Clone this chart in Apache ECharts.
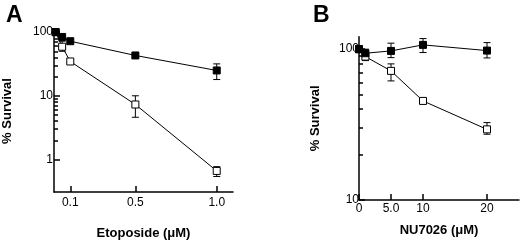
<!DOCTYPE html>
<html>
<head>
<meta charset="utf-8">
<script src="https://cdn.jsdelivr.net/npm/echarts@6/dist/echarts.min.js"></script>
<style>
  html, body { margin: 0; padding: 0; background: #fff; }
  #chart { width: 520px; height: 245px; }
</style>
</head>
<body>
<div id="chart"></div>
<script>
// panel A - etoposide
var etoX = [0.01, 0.05, 0.1, 0.5, 1.0];
var etoFilled = [100, 84, 72, 43, 25];
var etoFilledLow = [null, null, null, null, 18];
var etoFilledHigh = [null, null, null, null, 31.7];
var etoOpen = [100, 59, 34.6, 7.3, 0.66];
var etoOpenLow = [null, 50, null, 4.6, 0.54];
var etoOpenHigh = [null, 72, null, 10, 0.77];
var etoTicks = [0.1, 0.5, 1.0];

// panel B - NU7026
var nuX = [0, 1, 5, 10, 20];
var nuFilled = [100, 94, 97.4, 106.8, 97.9];
var nuFilledLow = [null, 89, 87.9, 95, 87.5];
var nuFilledHigh = [null, 100, 109.6, 117.6, 110.6];
var nuOpen = [100, 89.3, 71.8, 45.4, 29.4];
var nuOpenLow = [null, 84, 61.6, null, 27.3];
var nuOpenHigh = [null, 95, 79.9, null, 32.6];
var nuTicks = [0, 5, 10, 20];
var nuTickLabels = ['0', '5.0', '10', '20'];

// y ticks (log axes)
var majorA = [1, 10, 100];
var minorA = [2, 3, 4, 5, 6, 7, 8, 9, 20, 30, 40, 50, 60, 70, 80, 90];
var majorB = [10, 100];
var minorB = [20, 30, 40, 50, 60, 70, 80, 90];

var yRangeA = [0.308, 108];
var yRangeB = [10, 121];

var font = '"Liberation Sans", Arial, sans-serif';
var tickColor = '#000';

function pairs(xs, ys) {
    return xs.map(function (x, i) { return [x, ys[i]]; });
}

function errData(xs, lo, hi) {
    var out = [];
    for (var i = 0; i < xs.length; i++) {
        if (lo[i] != null) out.push([xs[i], lo[i], hi[i]]);
    }
    return out;
}

function errSeries(idx, data) {
    return {
        type: 'custom',
        xAxisIndex: idx,
        yAxisIndex: idx,
        z: 1,
        data: data,
        renderItem: function (params, api) {
            var lo = api.coord([api.value(0), api.value(1)]);
            var hi = api.coord([api.value(0), api.value(2)]);
            var w = 3.5;
            var st = { stroke: '#000', lineWidth: 1 };
            return {
                type: 'group',
                children: [
                    { type: 'line', shape: { x1: lo[0], y1: lo[1], x2: hi[0], y2: hi[1] }, style: st },
                    { type: 'line', shape: { x1: lo[0] - w, y1: lo[1], x2: lo[0] + w, y2: lo[1] }, style: st },
                    { type: 'line', shape: { x1: hi[0] - w, y1: hi[1], x2: hi[0] + w, y2: hi[1] }, style: st }
                ]
            };
        }
    };
}

function lineSeries(idx, data, filled) {
    return {
        type: 'line',
        xAxisIndex: idx,
        yAxisIndex: idx,
        data: data,
        z: filled ? 4 : 3,
        symbol: 'rect',
        symbolSize: 7,
        showSymbol: true,
        lineStyle: { color: '#000', width: 1 },
        itemStyle: {
            color: filled ? '#000' : '#fff',
            borderColor: '#000',
            borderWidth: 1
        },
        animation: false
    };
}

// helper axis in log10 space, only used to draw the tick marks of a log axis
function tickAxis(grid, range, ticks, len) {
    return {
        type: 'value', gridIndex: grid, position: 'left',
        min: Math.log10(range[0]), max: Math.log10(range[1]),
        axisLine: { show: false },
        axisTick: { show: true, inside: true, length: len, customValues: ticks.map(Math.log10), lineStyle: { color: tickColor, width: 1.5 } },
        axisLabel: { show: false },
        splitLine: { show: false }
    };
}

var axisLine = { show: true, onZero: false, lineStyle: { color: '#000', width: 1.5 } };
var labelStyle = { color: '#000', fontFamily: font, fontSize: 12 };
var nameStyle = { color: '#000', fontFamily: font, fontSize: 13, fontWeight: 'bold' };

var chart = echarts.init(document.getElementById('chart'));
var option = {
    animation: false,
    title: [
        { text: 'A', left: 1, top: -1, textStyle: { fontFamily: font, fontSize: 23, fontWeight: 'bold', color: '#000' } },
        { text: 'B', left: 308, top: -1, textStyle: { fontFamily: font, fontSize: 23, fontWeight: 'bold', color: '#000' } }
    ],
    grid: [
        { left: 54, right: 287, top: 30, bottom: 50.7 },
        { left: 359, right: 1, top: 36.7, bottom: 45 }
    ],
    xAxis: [
        {
            type: 'value', gridIndex: 0, min: 0, max: 1.1,
            name: 'Etoposide (μM)', nameLocation: 'middle', nameGap: 35, nameTextStyle: nameStyle,
            axisLine: axisLine,
            axisTick: { show: true, inside: true, length: 6, customValues: etoTicks, lineStyle: { color: tickColor, width: 1.5 } },
            axisLabel: Object.assign({ customValues: etoTicks, margin: 5, formatter: function (v) { return v.toFixed(1); } }, labelStyle),
            splitLine: { show: false }
        },
        {
            type: 'value', gridIndex: 1, min: 0, max: 25,
            name: 'NU7026 (μM)', nameLocation: 'middle', nameGap: 24, nameTextStyle: nameStyle,
            axisLine: axisLine,
            axisTick: { show: true, inside: true, length: 6, customValues: nuTicks, lineStyle: { color: tickColor, width: 1.5 } },
            axisLabel: Object.assign({
                customValues: nuTicks, margin: 3,
                formatter: function (v) { return nuTickLabels[nuTicks.indexOf(v)]; }
            }, labelStyle),
            splitLine: { show: false }
        }
    ],
    yAxis: [
        {
            type: 'log', gridIndex: 0, logBase: 10, min: yRangeA[0], max: yRangeA[1],
            name: '% Survival', nameLocation: 'middle', nameGap: 40, nameTextStyle: nameStyle,
            axisLine: axisLine,
            axisTick: { show: false },
            axisLabel: Object.assign({ customValues: majorA, margin: 1 }, labelStyle),
            splitLine: { show: false }
        },
        {
            type: 'log', gridIndex: 1, logBase: 10, min: yRangeB[0], max: yRangeB[1],
            name: '% Survival', nameLocation: 'middle', nameGap: 37, nameTextStyle: nameStyle,
            axisLine: axisLine,
            axisTick: { show: false },
            axisLabel: Object.assign({ customValues: majorB, margin: 0 }, labelStyle),
            splitLine: { show: false }
        },
        tickAxis(0, yRangeA, majorA, 6),
        tickAxis(0, yRangeA, minorA, 4),
        tickAxis(1, yRangeB, majorB, 6),
        tickAxis(1, yRangeB, minorB, 4)
    ],
    series: [
        errSeries(0, errData(etoX, etoOpenLow, etoOpenHigh)),
        errSeries(0, errData(etoX, etoFilledLow, etoFilledHigh)),
        lineSeries(0, pairs(etoX, etoOpen), false),
        lineSeries(0, pairs(etoX, etoFilled), true),
        errSeries(1, errData(nuX, nuOpenLow, nuOpenHigh)),
        errSeries(1, errData(nuX, nuFilledLow, nuFilledHigh)),
        lineSeries(1, pairs(nuX, nuOpen), false),
        lineSeries(1, pairs(nuX, nuFilled), true)
    ]
};
chart.setOption(option);
</script>
</body>
</html>
